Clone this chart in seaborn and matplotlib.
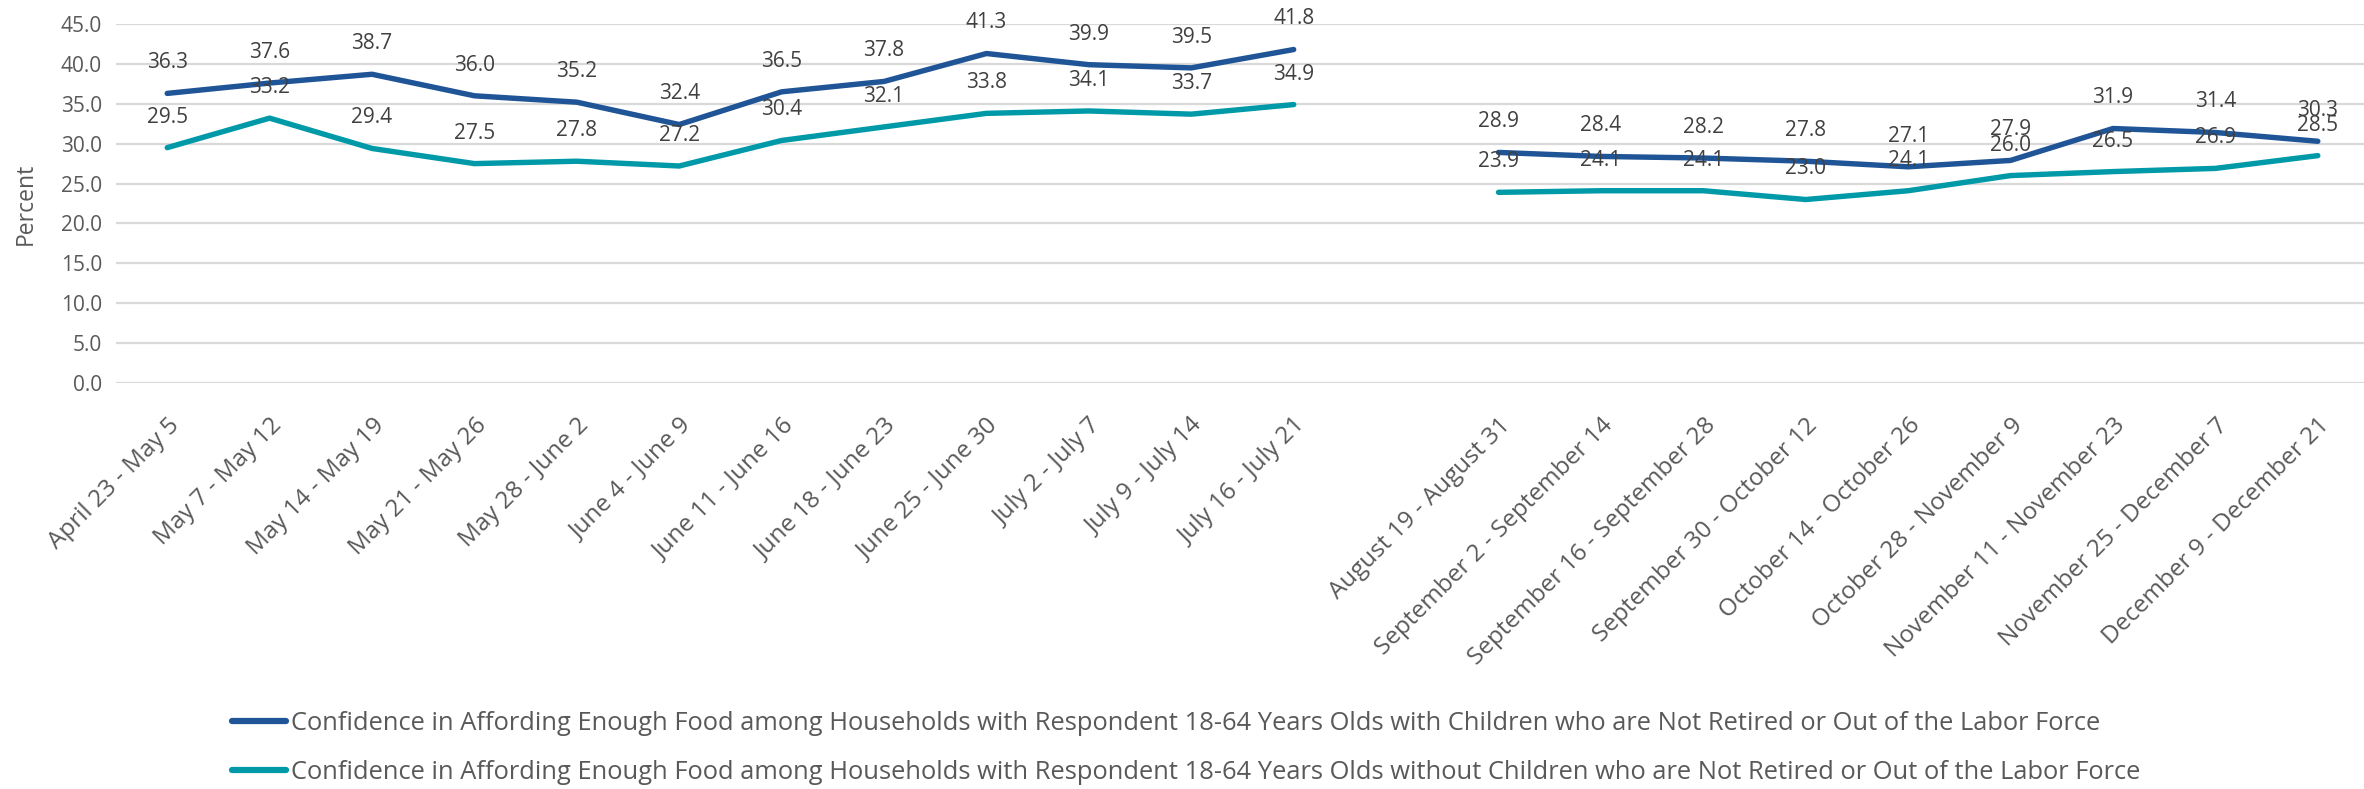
import numpy as np
import pandas as pd
import matplotlib
matplotlib.use("Agg")
import matplotlib.pyplot as plt
from matplotlib.lines import Line2D
import seaborn as sns

# Survey weeks (the blank entry separates the two collection phases)
weeks = [
    "April 23 - May 5", "May 7 - May 12", "May 14 - May 19", "May 21 - May 26",
    "May 28 - June 2", "June 4 - June 9", "June 11 - June 16", "June 18 - June 23",
    "June 25 - June 30", "July 2 - July 7", "July 9 - July 14", "July 16 - July 21",
    "",
    "August 19 - August 31", "September 2 - September 14",
    "September 16 - September 28", "September 30 - October 12",
    "October 14 - October 26", "October 28 - November 9",
    "November 11 - November 23", "November 25 - December 7",
    "December 9 - December 21",
]

with_children = [
    36.3, 37.6, 38.7, 36.0, 35.2, 32.4, 36.5, 37.8, 41.3, 39.9, 39.5, 41.8,
    np.nan,
    28.9, 28.4, 28.2, 27.8, 27.1, 27.9, 31.9, 31.4, 30.3,
]
without_children = [
    29.5, 33.2, 29.4, 27.5, 27.8, 27.2, 30.4, 32.1, 33.8, 34.1, 33.7, 34.9,
    np.nan,
    23.9, 24.1, 24.1, 23.0, 24.1, 26.0, 26.5, 26.9, 28.5,
]

series_names = [
    "Confidence in Affording Enough Food among Households with Respondent 18-64 Years Olds with Children who are Not Retired or Out of the Labor Force",
    "Confidence in Affording Enough Food among Households with Respondent 18-64 Years Olds without Children who are Not Retired or Out of the Labor Force",
]
colors = ["#1F5496", "#0099A8"]

# Long-form table; "phase" splits each series into its two unbroken segments
pos = np.arange(len(weeks))
gap = weeks.index("")
phase = np.where(pos < gap, 0, 1)
frames = []
for name, vals in zip(series_names, [with_children, without_children]):
    frames.append(pd.DataFrame({"pos": pos, "value": vals, "series": name, "phase": phase}))
df = pd.concat(frames, ignore_index=True).dropna()

sns.set_theme(style="white")
plt.rcParams["font.family"] = ["Open Sans", "DejaVu Sans"]

W, H = 2364, 789
fig = plt.figure(figsize=(W / 100, H / 100), dpi=100)
left, right, bottom, top = 116 / W, 2369 / W, 1 - 383 / H, 1 - 24 / H
ax = fig.add_axes([left, bottom, right - left, top - bottom])

text_col = "#595959"
label_col = "#404040"

sns.lineplot(
    data=df, x="pos", y="value", hue="series", units="phase", estimator=None,
    palette=dict(zip(series_names, colors)), linewidth=3.9, ax=ax, legend=False,
    solid_capstyle="round", solid_joinstyle="round",
)

ax.set_xlim(-0.5, len(weeks) - 0.5)
ax.set_ylim(0, 45)
ax.set_yticks(np.arange(0, 45.1, 5))
ax.set_yticklabels([f"{v:.1f}" for v in np.arange(0, 45.1, 5)], fontsize=15, color=text_col)
ax.set_xticks(pos)
ax.set_xticklabels(weeks, rotation=45, ha="right", rotation_mode="anchor",
                   fontsize=17.5, color=text_col)
ax.tick_params(axis="x", length=0, pad=22)
ax.tick_params(axis="y", length=0, pad=10)
ax.set_xlabel("")
ax.set_ylabel("Percent", fontsize=16.5, color=text_col)
ax.yaxis.set_label_coords(-(116 - 38) / (2369 - 116), 0.5)

ax.grid(axis="y", color="#D9D9D9", linewidth=1.6)
ax.set_axisbelow(True)
for s in ax.spines.values():
    s.set_visible(False)

# Value labels above every point
for vals in [with_children, without_children]:
    for x, v in zip(pos, vals):
        if np.isnan(v):
            continue
        ax.annotate(f"{v:.1f}", (x, v), xytext=(0, 22), textcoords="offset points",
                    ha="center", va="center", fontsize=15, color=label_col,
                    annotation_clip=False)

handles = [Line2D([0], [0], color=c, linewidth=4.5, solid_capstyle="round") for c in colors]
fig.legend(handles, series_names, loc="center", bbox_to_anchor=(1186 / W, 1 - 748 / H),
           ncol=1, frameon=False, fontsize=18.4, labelcolor=text_col,
           handlelength=2.1, handletextpad=0.2, labelspacing=0.95)

fig.savefig("out.png", dpi=100)
